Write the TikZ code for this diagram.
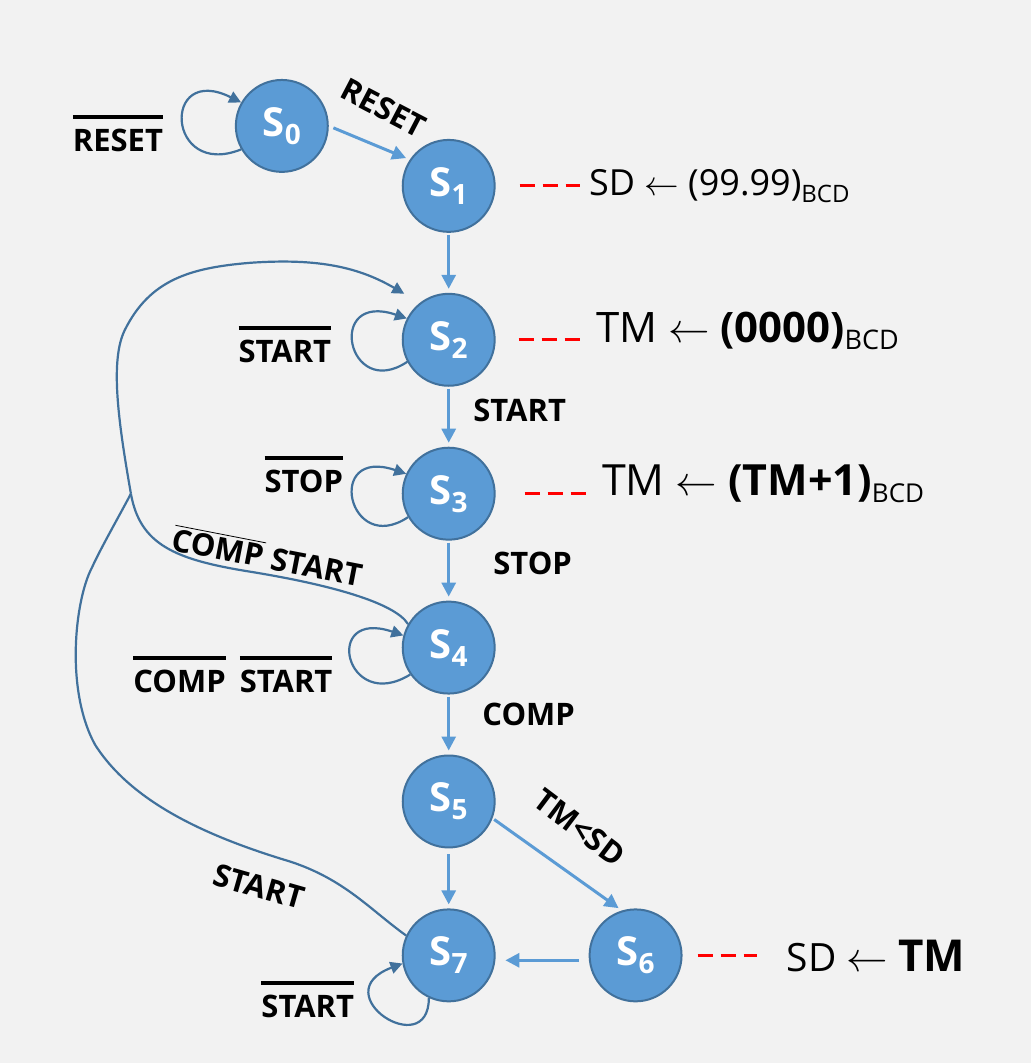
\documentclass[tikz,border=0pt]{standalone}
\usepackage{fontspec}
\setmainfont{Open Sans}
\usetikzlibrary{arrows.meta,positioning}

\definecolor{stfill}{HTML}{5B9BD5}
\definecolor{stline}{HTML}{41719C}
\definecolor{bgray}{HTML}{F2F2F2}

\newcommand\sidx[1]{\raisebox{-4pt}{\fontsize{14}{16}\selectfont #1}}
\newcommand\bcd[1][11]{\raisebox{-3.5pt}{\fontsize{#1}{#1}\selectfont BCD}}
\newcommand\ovl[1]{\vbox{\hrule height 2pt\kern 5pt\hbox{#1}}}

\begin{document}
\begin{tikzpicture}[x=0.5pt, y=-0.5pt,
  state/.style={circle, draw=stline, line width=1pt, fill=stfill, text=white, minimum size=46pt, inner sep=0pt, font=\fontsize{20}{24}\selectfont\bfseries},
  trans/.style={draw=stfill, line width=1.5pt, -{Triangle[length=7pt,width=7pt]}, shorten >=2pt, shorten <=1pt},
  selfloop/.style={draw=stline, line width=1.1pt, -{Triangle[length=6pt,width=6pt]}},
  back/.style={draw=stline, line width=1.1pt},
  cond/.style={font=\fontsize{15.5}{18}\selectfont\bfseries, inner sep=0pt},
  action/.style={anchor=base west, inner sep=0pt, font=\fontsize{18}{21}\selectfont},
  actline/.style={draw=red, line width=1.5pt, dash pattern=on 7.5pt off 4pt},
  node distance=30pt
]
\fill[bgray] (0,0) rectangle (1032,1064);

% states
\node[state] (s0) at (282,126) {S\sidx{0}};
\node[state] (s1) at (449,186) {S\sidx{1}};
\node[state, below=of s1] (s2) {S\sidx{2}};
\node[state, below=of s2] (s3) {S\sidx{3}};
\node[state, below=of s3] (s4) {S\sidx{4}};
\node[state, below=of s4] (s5) {S\sidx{5}};
\node[state, below=of s5] (s7) {S\sidx{7}};
\node[state, right=46.5pt of s7] (s6) {S\sidx{6}};

% register transfers
\node[action] (act1) at (589,196) {SD $\leftarrow$ (99.99)\bcd[12]};
\node[action, font=\fontsize{21}{25}\selectfont] (act2) at (596,343) {TM $\leftarrow$ \textbf{(0000)}\bcd[13.5]};
\node[action, font=\fontsize{21.5}{25}\selectfont] (act3) at (602,496) {TM $\leftarrow$ \textbf{(TM+1)}\bcd[13]};
\node[action, font=\fontsize{19.5}{24}\selectfont] (act4) at (787,972) {SD $\leftarrow$ {\fontsize{22}{26}\selectfont\bfseries TM}};

\draw[actline, shorten <=12pt, shorten >=4.5pt] (s1.east) -- (s1.east -| act1.west);
\draw[actline, shorten <=11.5pt, shorten >=8pt] (s2.east) -- (s2.east -| act2.west);
\draw[actline, shorten <=14.5pt, shorten >=7pt] (s3.east) -- (s3.east -| act3.west);
\draw[actline, shorten <=7.5pt, shorten >=15pt] (s6.east) -- (s6.east -| act4.west);

% conditions
\node[cond, anchor=base] (lreset0) at (118,152) {\ovl{RESET}};
\node[cond, rotate=-27.5] (lreset) at (384,108) {RESET};
\node[cond, anchor=base] (lstart2) at (285,363) {\ovl{START}};
\node[cond, anchor=base] (lstart23) at (520,422) {START};
\node[cond, anchor=base] (lstop3) at (304,493) {\ovl{STOP}};
\node[cond, rotate=-11] (lcs) at (268,556) {$\overline{\mbox{COMP}}$ START};
\node[cond, anchor=base] (lstop34) at (533,575) {STOP};
\node[cond, anchor=base] (lcs4) at (233,693) {\ovl{COMP}\hspace{7pt}\ovl{START}};
\node[cond, anchor=base] (lcomp) at (529,726) {COMP};
\node[cond, rotate=-37] (ltmsd) at (580,828) {TM<SD};
\node[cond, rotate=-16] (lstart7) at (259,887) {START};
\node[cond, anchor=base] (lstart77) at (308,1018) {\ovl{START}};

% transitions
\draw[trans, shorten <=2.5pt] (s0.east) -- (s1.146);
\draw[trans] (s1.south) -- (s2.north);
\draw[trans] (s2.south) -- (s3.north);
\draw[trans] (s3.south) -- (s4.north);
\draw[trans] (s4.south) -- (s5.north);
\draw[trans, shorten <=3pt] (s5.south) -- (s7.north);
\draw[trans] (s5.-21) -- (s6.107);
\draw[trans, shorten <=5pt, shorten >=5pt] (s6.186) -- (s7.-6);

% self loops
\draw[selfloop] (s0.210) .. controls +(-75,30) and +(-80,-40) .. (s0.150);
\draw[selfloop] (s2.208) .. controls +(-60,40) and +(-82,-28) .. (s2.153);
\draw[selfloop] (s3.210) .. controls +(-60,40) and +(-82,-28) .. (s3.155);
\draw[selfloop] (s4.215) .. controls +(-65,40) and +(-82,-28) .. (s4.165);
\draw[selfloop] (s7.245) .. controls +(0,65) and +(-80,30) .. (s7.190);

% back to S2
\coordinate (merge) at (131,494);
\draw[back] (s4.150) .. controls (395,603) and (330,585) .. (250,572)
  .. controls (175,560) and (140,545) .. (merge);
\draw[back] (s7.155) .. controls (370,910) and (345,880) .. (290,862)
  .. controls (200,835) and (130,800) .. (95,745)
  .. controls (65,690) and (75,600) .. (92,568)
  .. controls (100,550) and (120,515) .. (merge);
\draw[selfloop, shorten >=9pt] (merge) .. controls (118,420) and (110,360) .. (125,330)
  .. controls (150,280) and (190,268) .. (250,263)
  .. controls (320,258) and (360,268) .. (s2.128);
\end{tikzpicture}
\end{document}
